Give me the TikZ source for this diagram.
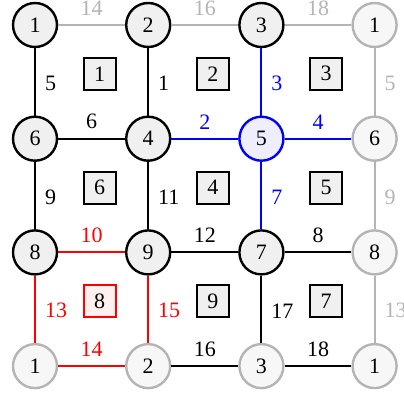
\documentclass[tikz,border=0pt]{standalone}
\usepackage{fontspec}
\setmainfont{Liberation Serif}
\definecolor{lgray}{HTML}{B4B4B4}
\definecolor{nfill}{HTML}{F0F0F0}
\definecolor{gfill}{HTML}{F7F7F7}
\definecolor{bfill}{HTML}{EEEEFF}
\definecolor{rfill}{HTML}{FFF0F0}
\begin{document}
\begin{tikzpicture}[x=1pt,y=-1pt,
  font=\fontsize{22}{26}\selectfont,
  vtx/.style={circle,draw=black,fill=nfill,line width=2.4pt,minimum size=44pt,inner sep=0pt},
  gvtx/.style={vtx,draw=lgray,fill=gfill},
  bvtx/.style={vtx,draw=blue,fill=bfill},
  face/.style={rectangle,draw=black,fill=nfill,line width=2pt,minimum size=32pt,inner sep=0pt},
  rface/.style={face,draw=red,fill=rfill},
  ed/.style={line width=2pt,draw=black},
  ged/.style={ed,draw=lgray},
  bed/.style={ed,draw=blue},
  red/.style={ed,draw=red},
  hl/.style={midway,above=8.5pt,inner sep=0pt},
  vl/.style={midway,right=9pt,inner sep=0pt,yshift=-1.5pt},
]
\useasboundingbox (0,0) rectangle (404,396);
% vertices
\node[vtx]  (a0) at (35,25) {1};
\node[vtx]  (b0) at (148.2,25) {2};
\node[vtx]  (c0) at (261.4,25) {3};
\node[gvtx] (d0) at (374.6,25) {1};
\node[vtx]  (a1) at (35,138.7) {6};
\node[vtx]  (b1) at (148.2,138.7) {4};
\node[bvtx] (c1) at (261.4,138.7) {5};
\node[gvtx] (d1) at (374.6,138.7) {6};
\node[vtx]  (a2) at (35,252.4) {8};
\node[vtx]  (b2) at (148.2,252.4) {9};
\node[vtx]  (c2) at (261.4,252.4) {7};
\node[gvtx] (d2) at (374.6,252.4) {8};
\node[gvtx] (a3) at (35,366.1) {1};
\node[gvtx] (b3) at (148.2,366.1) {2};
\node[gvtx] (c3) at (261.4,366.1) {3};
\node[gvtx] (d3) at (374.6,366.1) {1};
% horizontal edges
\draw[ged] (a0) -- (b0) node[hl,text=lgray] (l1) {14};
\draw[ged] (b0) -- (c0) node[hl,text=lgray] (l2) {16};
\draw[ged] (c0) -- (d0) node[hl,text=lgray] (l3) {18};
\draw[ed]  (a1) -- (b1) node[hl] (l4) {6};
\draw[bed] (b1) -- (c1) node[hl,text=blue] (l5) {2};
\draw[bed] (c1) -- (d1) node[hl,text=blue] (l6) {4};
\draw[red] (a2) -- (b2) node[hl,text=red] (l7) {10};
\draw[ed]  (b2) -- (c2) node[hl] (l8) {12};
\draw[ed]  (c2) -- (d2) node[hl] (l9) {8};
\draw[red] (a3) -- (b3) node[hl,text=red] (l10) {14};
\draw[ed]  (b3) -- (c3) node[hl] (l11) {16};
\draw[ed]  (c3) -- (d3) node[hl] (l12) {18};
% vertical edges
\draw[ed]  (a0) -- (a1) node[vl] (m1) {5};
\draw[ed]  (a1) -- (a2) node[vl] (m2) {9};
\draw[red] (a2) -- (a3) node[vl,text=red] (m3) {13};
\draw[ed]  (b0) -- (b1) node[vl] (m4) {1};
\draw[ed]  (b1) -- (b2) node[vl] (m5) {11};
\draw[red] (b2) -- (b3) node[vl,text=red] (m6) {15};
\draw[bed] (c0) -- (c1) node[vl,text=blue] (m7) {3};
\draw[bed] (c1) -- (c2) node[vl,text=blue] (m8) {7};
\draw[ed]  (c2) -- (c3) node[vl] (m9) {17};
\draw[ged] (d0) -- (d1) node[vl,text=lgray] (m10) {5};
\draw[ged] (d1) -- (d2) node[vl,text=lgray] (m11) {9};
\draw[ged] (d2) -- (d3) node[vl,text=lgray] (m12) {13};
% faces
\node[face]  (f1) at (99.7,73.8) {1};
\node[face]  (f2) at (212.9,73.8) {2};
\node[face]  (f3) at (326.1,73.8) {3};
\node[face]  (f6) at (99.7,187.5) {6};
\node[face]  (f4) at (212.9,187.5) {4};
\node[face]  (f5) at (326.1,187.5) {5};
\node[rface] (f8) at (99.7,301.2) {8};
\node[face]  (f9) at (212.9,301.2) {9};
\node[face]  (f7) at (326.1,301.2) {7};
\end{tikzpicture}
\end{document}
